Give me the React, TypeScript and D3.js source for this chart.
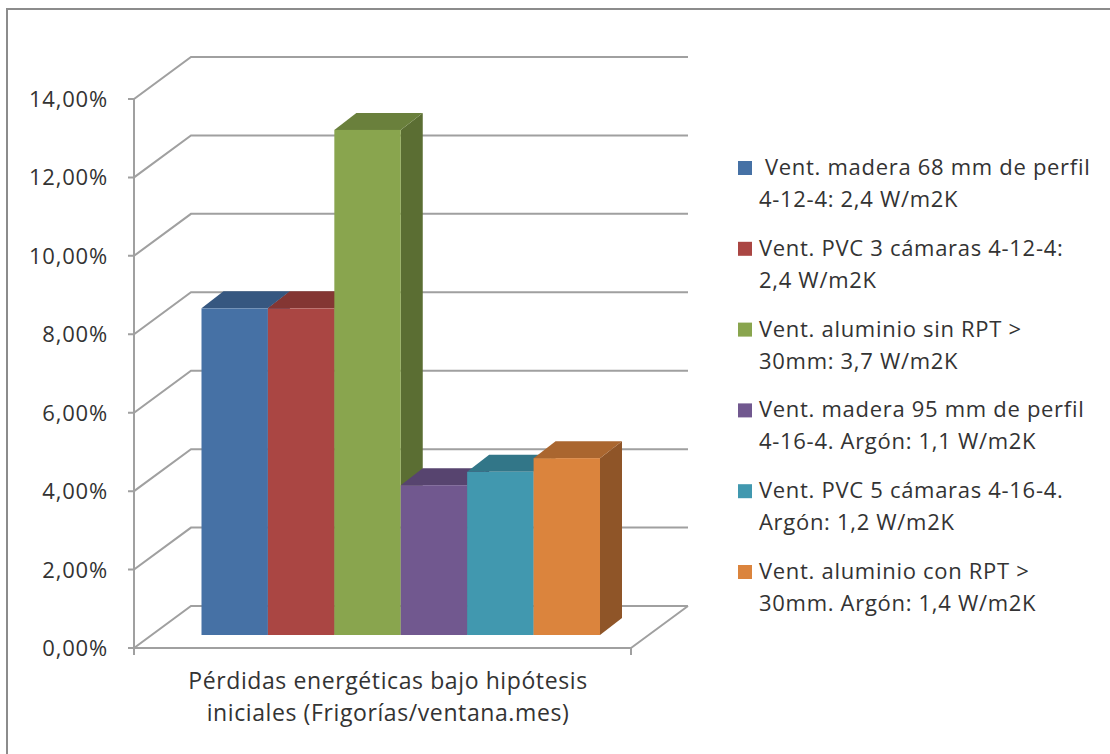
import * as d3 from "d3";

const SERIES_NAMES = [
  " Vent. madera 68 mm de perfil 4-12-4: 2,4 W/m2K",
  "Vent. PVC 3 cámaras 4-12-4: 2,4 W/m2K",
  "Vent. aluminio sin RPT > 30mm: 3,7 W/m2K",
  "Vent. madera 95 mm de perfil 4-16-4. Argón: 1,1 W/m2K",
  "Vent. PVC 5 cámaras 4-16-4. Argón: 1,2 W/m2K",
  "Vent. aluminio con RPT > 30mm. Argón: 1,4 W/m2K",
];
const VALUES = [8.33, 8.33, 12.88, 3.82, 4.16, 4.51];
const FRONT = ["#4671a5", "#aa4643", "#89a54e", "#71588f", "#4198af", "#db843d"];
const TOP = ["#365780", "#843633", "#6a803c", "#57446f", "#327688", "#aa662f"];
const SIDE = ["#2f4b6f", "#722f2c", "#5b6e33", "#4b3b60", "#2b6676", "#8f5528"];
const TICKS = [0, 2, 4, 6, 8, 10, 12, 14];
const LEGEND_LINES = [
  [" Vent. madera 68 mm de perfil", "4-12-4: 2,4 W/m2K"],
  ["Vent. PVC 3 cámaras 4-12-4:", "2,4 W/m2K"],
  ["Vent. aluminio sin RPT >", "30mm: 3,7 W/m2K"],
  ["Vent. madera 95 mm de perfil", "4-16-4. Argón: 1,1 W/m2K"],
  ["Vent. PVC 5 cámaras 4-16-4.", "Argón: 1,2 W/m2K"],
  ["Vent. aluminio con RPT >", "30mm. Argón: 1,4 W/m2K"],
];
const CATEGORY_LINES = ["Pérdidas energéticas bajo hipótesis", "iniciales (Frigorías/ventana.mes)"];

const FONT = "'Open Sans', Lato, sans-serif";
const TEXT = "#333";
const GRID = "#a0a0a0";

// wall/floor geometry of the fake 3D box
const AXIS_X = 134;
const FLOOR_RIGHT = 631;
const DEPTH = { x: 57, y: -42 };
const BAR_DEPTH = { x: 22, y: -17 };
const BAR_BASE = 635;

const yAxis = d3.scaleLinear().domain([0, 14]).range([648, 99]);
const yBar = d3.scaleLinear().domain([0, 14]).range([BAR_BASE, BAR_BASE - 549]);
const xBar = d3.scaleBand<number>().domain(d3.range(VALUES.length)).range([201.5, 600]);

const poly = (pts: [number, number][]) => d3.line()(pts) + "Z";

export default function App() {
  const w = xBar.bandwidth();
  return (
    <svg width={1110} height={754} style={{ position: "absolute", left: 0, top: 0, background: "#fff" }}>
      {/* chart frame */}
      <rect x={7} y={9} width={1200} height={900} fill="#fff" stroke="#8c8c8c" strokeWidth={2} />

      {/* gridlines on the side and back walls */}
      {TICKS.map((t) => {
        const y = yAxis(t);
        return (
          <g key={t} fill="none" stroke={GRID} strokeWidth={2}>
            <path d={`M${AXIS_X - 6},${y}H${AXIS_X}L${AXIS_X + DEPTH.x},${y + DEPTH.y}H${FLOOR_RIGHT + DEPTH.x}`} />
          </g>
        );
      })}
      <path
        d={`M${AXIS_X},${yAxis(14)}V${yAxis(0) + 7}M${AXIS_X},${yAxis(0)}H${FLOOR_RIGHT}V${yAxis(0) + 7}M${FLOOR_RIGHT},${yAxis(0)}L${FLOOR_RIGHT + DEPTH.x},${yAxis(0) + DEPTH.y}`}
        fill="none" stroke={GRID} strokeWidth={2}
      />

      {/* bars: back to front, left to right, so neighbours overlap correctly */}
      {VALUES.map((v, i) => {
        const x = xBar(i) ?? 0;
        const top = yBar(v);
        const dx = BAR_DEPTH.x;
        const dy = BAR_DEPTH.y;
        return (
          <g key={SERIES_NAMES[i]}>
            <path d={poly([[x + w, top], [x + w + dx, top + dy], [x + w + dx, BAR_BASE + dy], [x + w, BAR_BASE]])} fill={SIDE[i]} />
            <path d={poly([[x, top], [x + dx, top + dy], [x + w + dx, top + dy], [x + w, top]])} fill={TOP[i]} />
            <rect x={x} y={top} width={w} height={BAR_BASE - top} fill={FRONT[i]} />
          </g>
        );
      })}

      {/* y tick labels */}
      {TICKS.map((t) => (
        <text key={t} x={108} y={yAxis(t) + 8} textAnchor="end" fontFamily={FONT} fontSize={22} letterSpacing={0.8} fill={TEXT}>
          {t.toFixed(2).replace(".", ",")}%
        </text>
      ))}

      {/* category label */}
      {CATEGORY_LINES.map((line, i) => (
        <text key={line} x={388} y={689 + i * 32} textAnchor="middle" fontFamily={FONT} fontSize={23} letterSpacing={0.6} fill={TEXT}>
          {line}
        </text>
      ))}

      {/* legend */}
      {LEGEND_LINES.map((lines, i) => {
        const y = 168 + i * 80.8;
        return (
          <g key={i}>
            <rect x={738} y={y - 7} width={14} height={14} fill={FRONT[i]} />
            <text x={lines[0].startsWith(" ") ? 765 : 759} y={y + 7} fontFamily={FONT} fontSize={22} letterSpacing={0.7} fill={TEXT}>
              {lines[0].trim()}
            </text>
            <text x={759} y={y + 39} fontFamily={FONT} fontSize={22} letterSpacing={0.7} fill={TEXT}>
              {lines[1]}
            </text>
          </g>
        );
      })}
    </svg>
  );
}
